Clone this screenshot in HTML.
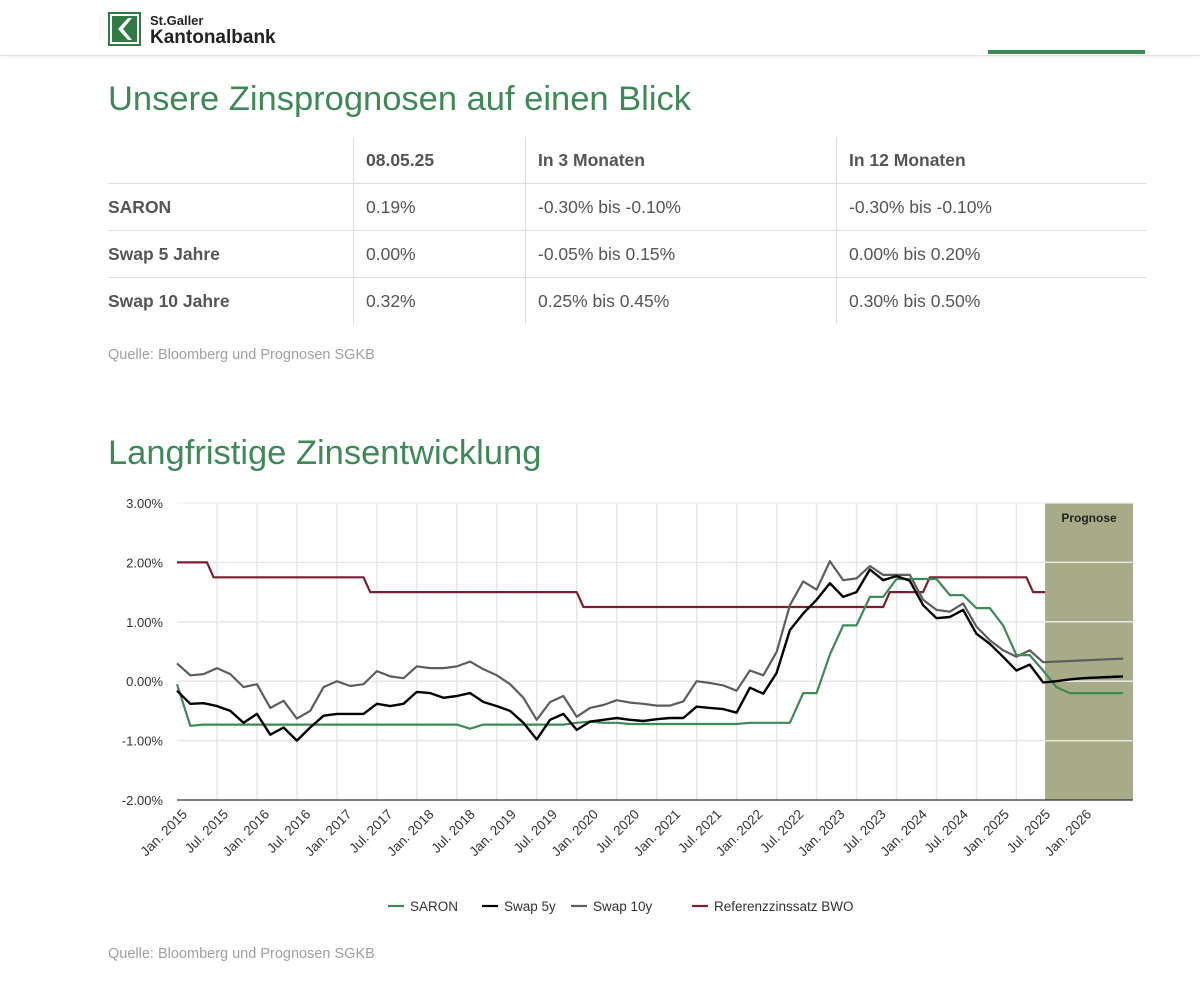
<!DOCTYPE html>
<html><head><meta charset="utf-8">
<style>
body{margin:0;width:1200px;height:985px;background:#fff;font-family:"Liberation Sans",sans-serif;position:relative;overflow:hidden}
.abs{position:absolute}
.h1{color:#3d8a56;font-size:34.5px;left:108px;white-space:nowrap}
table{position:absolute;left:108px;top:137px;border-collapse:collapse;font-size:17.5px;color:#555}
td{height:46px;padding:0;vertical-align:middle}
tr+tr td{border-top:1px solid #ddd}
td.c{border-left:1px solid #ddd;padding-left:12px}
.src{color:#a0a0a0;font-size:14.5px;left:108px}
</style></head><body>
<div class="abs" style="left:0;top:0;width:1200px;height:55px;border-bottom:1px solid #e2e2e2;box-shadow:0 1px 3px #eee"></div>
<svg class="abs" style="left:108px;top:12px" width="33" height="34"><rect x="1" y="1" width="31" height="32" fill="#fff" stroke="#2f7a45" stroke-width="2"/><rect x="4" y="4" width="25" height="26" fill="#2f7a45"/><polygon points="20,6 10,17 20,28 24,28 15,17 24,6" fill="#fff"/></svg>
<div class="abs" style="left:150px;top:12px;color:#222;font-weight:bold;line-height:17px"><div style="font-size:13px">St.Galler</div><div style="font-size:19px">Kantonalbank</div></div>
<div class="abs" style="left:988px;top:50px;width:157px;height:4px;background:#3d8a56"></div>

<div class="abs h1" style="top:80px">Unsere Zinsprognosen auf einen Blick</div>
<table>
<tr style="font-weight:bold"><td style="width:245px"></td><td class="c" style="width:159px">08.05.25</td><td class="c" style="width:298px">In 3 Monaten</td><td class="c" style="width:297px">In 12 Monaten</td></tr>
<tr><td style="font-weight:bold">SARON</td><td class="c">0.19%</td><td class="c">-0.30% bis -0.10%</td><td class="c">-0.30% bis -0.10%</td></tr>
<tr><td style="font-weight:bold">Swap 5 Jahre</td><td class="c">0.00%</td><td class="c">-0.05% bis 0.15%</td><td class="c">0.00% bis 0.20%</td></tr>
<tr><td style="font-weight:bold">Swap 10 Jahre</td><td class="c">0.32%</td><td class="c">0.25% bis 0.45%</td><td class="c">0.30% bis 0.50%</td></tr>
</table>
<div class="abs src" style="top:347px">Quelle: Bloomberg und Prognosen SGKB</div>
<div class="abs h1" style="top:434px">Langfristige Zinsentwicklung</div>
<svg id="chart" class="abs" style="left:0;top:0" width="1200" height="985"></svg>
<div class="abs src" style="top:946px">Quelle: Bloomberg und Prognosen SGKB</div>
<script>
const yTicks=[3,2,1,0,-1,-2];
const xLabels=["Jan. 2015","Jul. 2015","Jan. 2016","Jul. 2016","Jan. 2017","Jul. 2017","Jan. 2018","Jul. 2018","Jan. 2019","Jul. 2019","Jan. 2020","Jul. 2020","Jan. 2021","Jul. 2021","Jan. 2022","Jul. 2022","Jan. 2023","Jul. 2023","Jan. 2024","Jul. 2024","Jan. 2025","Jul. 2025","Jan. 2026"];
const months=[0,2,4,6,8,10,12,14,16,18,20,22,24,26,28,30,32,34,36,38,40,42,44,46,48,50,52,54,56,58,60,62,64,66,68,70,72,74,76,78,80,82,84,86,88,90,92,94,96,98,100,102,104,106,108,110,112,114,116,118,120,122,124,126,128,130,132,134,136,138,140,142];
const saron=[-0.05,-0.75,-0.73,-0.73,-0.73,-0.73,-0.73,-0.73,-0.73,-0.73,-0.73,-0.73,-0.73,-0.73,-0.73,-0.73,-0.73,-0.73,-0.73,-0.73,-0.73,-0.73,-0.8,-0.73,-0.73,-0.73,-0.73,-0.73,-0.73,-0.73,-0.7,-0.68,-0.7,-0.7,-0.72,-0.72,-0.72,-0.72,-0.72,-0.72,-0.72,-0.72,-0.72,-0.7,-0.7,-0.7,-0.7,-0.2,-0.2,0.45,0.94,0.94,1.42,1.42,1.72,1.72,1.72,1.72,1.45,1.45,1.23,1.23,0.94,0.44,0.44,0.18,-0.1,-0.2,-0.2,-0.2,-0.2,-0.2];
const swap5=[-0.16,-0.38,-0.37,-0.42,-0.5,-0.7,-0.55,-0.9,-0.78,-1.0,-0.78,-0.58,-0.55,-0.55,-0.55,-0.38,-0.42,-0.38,-0.18,-0.2,-0.28,-0.25,-0.2,-0.35,-0.42,-0.5,-0.7,-0.98,-0.65,-0.55,-0.82,-0.68,-0.65,-0.62,-0.65,-0.67,-0.64,-0.62,-0.62,-0.43,-0.45,-0.47,-0.53,-0.11,-0.21,0.14,0.86,1.14,1.37,1.65,1.42,1.5,1.88,1.7,1.77,1.69,1.28,1.06,1.08,1.2,0.8,0.63,0.41,0.18,0.28,-0.02,0.0,0.03,0.05,0.06,0.07,0.08];
const swap10=[0.3,0.1,0.12,0.22,0.12,-0.1,-0.05,-0.45,-0.33,-0.63,-0.5,-0.1,0.0,-0.08,-0.05,0.17,0.08,0.05,0.25,0.22,0.22,0.25,0.33,0.2,0.1,-0.05,-0.28,-0.65,-0.35,-0.25,-0.6,-0.45,-0.4,-0.32,-0.36,-0.38,-0.41,-0.41,-0.34,0.0,-0.03,-0.07,-0.16,0.18,0.1,0.49,1.28,1.68,1.54,2.02,1.7,1.73,1.94,1.79,1.79,1.79,1.37,1.2,1.17,1.31,0.92,0.69,0.52,0.41,0.52,0.32,0.33,0.34,0.35,0.36,0.37,0.38];
const refMonths=[0,4.5,5.5,28,29,60,61,106,107,112,113,127.5,128.5,130.3];
const refVals=[2,2,1.75,1.75,1.5,1.5,1.25,1.25,1.5,1.5,1.75,1.75,1.5,1.5];
const forecastStart=130.3, xMax=143.5;
const L=177,R=1133,T=503,B=800;
const x=m=>L+(m/xMax)*(R-L);
const y=v=>T+(3-v)/5*(B-T);
const svg=document.getElementById('chart');
const NS="http://www.w3.org/2000/svg";
function mk(t,a,p){const e=document.createElementNS(NS,t);for(const k in a)e.setAttribute(k,a[k]);(p||svg).appendChild(e);return e;}
for(let m=6;m<forecastStart;m+=6){const g=mk('line',{x1:x(m),x2:x(m),y1:T,y2:B,stroke:'#e4e4e4','stroke-width':1.3});

}
const band=mk('rect',{x:x(forecastStart),y:T,width:R-x(forecastStart),height:B-T,fill:'#a8ab87'});


const pt=mk('text',{x:(x(forecastStart)+R)/2,y:T+19,'text-anchor':'middle','font-size':12,'font-weight':'bold',fill:'#222','font-family':'Liberation Sans'});pt.textContent='Prognose';


yTicks.forEach(v=>{
 const g=mk('line',{x1:L,x2:R,y1:y(v),y2:y(v),stroke:v==-2?'#333':(v==3?'#eee':'#e4e4e4'),'stroke-width':v==-2?1.2:1.3});
 
 
 if(v>-2&&v<3){const w=mk('line',{x1:x(forecastStart),x2:R,y1:y(v),y2:y(v),stroke:'#eceee4','stroke-width':1.3});
 
 }
 const t=mk('text',{x:163,y:y(v)+5,'text-anchor':'end','font-size':13,fill:'#333','font-family':'Liberation Sans'});t.textContent=v.toFixed(2)+'%';
 
 
});
xLabels.forEach((s,i)=>{const px=188+i*41.1,py=815;
 const t=mk('text',{x:px,y:py,'text-anchor':'end','font-size':13.5,fill:'#333','font-family':'Liberation Sans',transform:`rotate(-45 ${px} ${py})`});t.textContent=s;
 
 });
function line(ms,vs,color,w,name){const d=ms.map((m,i)=>(i?'L':'M')+x(m).toFixed(1)+','+y(vs[i]).toFixed(1)).join('');
 const p=mk('path',{d,fill:'none',stroke:color,'stroke-width':w,'stroke-linejoin':'round'});
 
 }
line(refMonths,refVals,'#7a1f33',2.2,'referenzzinssatz-line');
line(months,swap10,'#5d5d5d',2.2,'swap-10y-line');
line(months,saron,'#3d8a56',2.2,'saron-line');
line(months,swap5,'#000',2.4,'swap-5y-line');
const leg=[["SARON","#3d8a56",388],["Swap 5y","#000",482],["Swap 10y","#5d5d5d",571],["Referenzzinssatz BWO","#7a1f33",692]];
leg.forEach(([s,c,lx])=>{const g=mk('g',{});
 
 
 mk('line',{x1:lx,x2:lx+16,y1:906,y2:906,stroke:c,'stroke-width':2.2},g);
 const t=mk('text',{x:lx+22,y:911,'font-size':13.5,fill:'#333','font-family':'Liberation Sans'},g);t.textContent=s;});
</script>
</body></html>
